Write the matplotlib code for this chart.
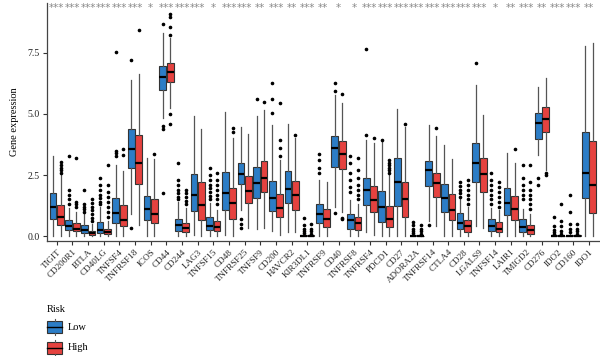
import matplotlib
matplotlib.use("Agg")
import matplotlib.pyplot as plt
from matplotlib.patches import Rectangle
from matplotlib.lines import Line2D

# ---- data ----
genes = ["TIGIT", "CD200R1", "BTLA", "CD40LG", "TNFSF4", "TNFRSF18", "ICOS", "CD44",
         "CD244", "LAG3", "TNFSF15", "CD48", "TNFRSF25", "TNFSF9", "CD200", "HAVCR2",
         "KIR3DL1", "TNFRSF9", "CD40", "TNFRSF8", "TNFRSF4", "PDCD1", "CD27", "ADORA2A",
         "TNFRSF14", "CTLA4", "CD28", "LGALS9", "TNFSF14", "LAIR1", "TMIGD2", "CD276",
         "IDO2", "CD160", "IDO1"]
stars = ["***", "***", "***", "***", "***", "***", "*", "***", "***", "***", "*", "***",
         "***", "**", "***", "**", "***", "**", "*", "*", "***", "***", "***", "***",
         "***", "***", "***", "***", "*", "**", "***", "**", "***", "***", "**"]

# Low risk group: q1, median, q3, whisker low, whisker high, outliers
low_q1 = [0.71, 0.27, 0.14, 0.11, 0.55, 2.80, 0.64, 5.98, 0.22, 1.04, 0.25, 1.09, 2.12, 1.58,
          1.02, 1.37, 0.00, 0.52, 2.84, 0.31, 1.27, 0.59, 1.25, 0.00, 2.05, 1.00, 0.31, 2.23,
          0.20, 0.86, 0.18, 3.97, 0.00, 0.00, 1.55]
low_med = [1.20, 0.41, 0.25, 0.27, 0.94, 3.57, 1.12, 6.53, 0.45, 1.68, 0.41, 1.75, 2.53, 2.18,
           1.57, 1.91, 0.01, 0.89, 3.60, 0.66, 1.89, 1.18, 2.20, 0.01, 2.70, 1.58, 0.55, 3.00,
           0.41, 1.37, 0.36, 4.62, 0.01, 0.02, 2.60]
low_q3 = [1.75, 0.65, 0.44, 0.57, 1.57, 4.38, 1.64, 6.98, 0.70, 2.55, 0.79, 2.61, 3.00, 2.81,
          2.27, 2.66, 0.04, 1.30, 4.10, 0.89, 2.40, 1.84, 3.20, 0.03, 3.09, 2.13, 0.96, 3.83,
          0.70, 1.95, 0.70, 5.05, 0.03, 0.05, 4.28]
low_lo = [0.00, 0.00, 0.00, 0.00, 0.00, 0.90, 0.00, 4.84, 0.00, 0.05, 0.00, 0.05, 1.07, 0.30,
          0.20, 0.18, 0.00, 0.02, 1.20, 0.00, 0.18, 0.02, 0.02, 0.00, 0.60, 0.02, 0.00, 0.40,
          0.00, 0.02, 0.00, 3.32, 0.00, 0.00, 0.00]
low_hi = [3.27, 1.16, 0.90, 1.20, 2.93, 6.40, 3.20, 8.30, 1.41, 4.90, 1.35, 5.10, 4.48, 4.90,
          4.55, 4.60, 0.08, 2.30, 5.78, 1.48, 3.93, 3.85, 5.20, 0.07, 4.55, 3.73, 1.50, 6.19,
          1.15, 3.41, 1.10, 6.12, 0.07, 0.10, 7.79]
low_out = [[], [1.3, 1.5, 1.68, 1.9, 3.3], [1.0, 1.1, 1.2, 1.3, 1.87],
           [1.3, 1.4, 1.55, 1.7, 1.9, 2.1, 2.36], [3.3, 3.4, 3.5, 7.52], [0.33, 7.2], [],
           [1.77, 4.37, 4.5, 8.69], [1.5, 1.6, 1.75, 1.9, 2.1, 2.3, 3.0], [],
           [1.5, 1.65, 1.8, 1.95, 2.1, 2.3, 2.5, 2.8], [], [0.35, 0.5, 0.7], [5.6],
           [5.03, 5.6, 6.26], [], [0.12, 0.2, 0.3, 0.45, 0.75], [2.57, 2.8, 3.1, 3.38],
           [0.93, 5.96, 6.26], [1.8, 2.0, 2.3, 2.6, 3.0, 3.3], [4.14, 7.65], [3.95], [],
           [0.12, 0.2, 0.3, 0.45, 0.59], [0.45], [], [1.6, 1.75, 1.9, 2.05, 2.2], [7.1],
           [1.3, 1.5, 1.7, 1.9, 2.1, 2.3, 2.6], [], [1.5, 1.7, 1.9, 2.1, 2.4, 2.9], [2.1, 2.4],
           [0.1, 0.15, 0.25, 0.4, 0.79], [0.15, 0.3, 0.5, 0.97, 1.68], []]

# High risk group
high_q1 = [0.44, 0.20, 0.04, 0.07, 0.41, 2.15, 0.55, 6.33, 0.18, 0.66, 0.20, 0.72, 1.34, 1.82,
           0.77, 1.07, 0.00, 0.38, 2.73, 0.27, 0.97, 0.36, 0.77, 0.00, 1.61, 0.66, 0.18, 1.79,
           0.18, 0.66, 0.08, 4.28, 0.00, 0.00, 0.93]
high_med = [0.78, 0.31, 0.14, 0.18, 0.68, 3.00, 0.89, 6.70, 0.32, 1.27, 0.38, 1.34, 1.86, 2.36,
            1.16, 1.68, 0.01, 0.72, 3.36, 0.52, 1.48, 0.72, 1.50, 0.01, 2.16, 1.09, 0.41, 2.54,
            0.30, 1.13, 0.25, 4.78, 0.01, 0.01, 2.09]
high_q3 = [1.27, 0.52, 0.23, 0.30, 1.27, 4.16, 1.50, 7.08, 0.55, 2.20, 0.61, 1.98, 2.46, 3.09,
           1.71, 2.27, 0.03, 1.13, 3.91, 0.77, 2.05, 1.23, 2.23, 0.02, 2.60, 1.72, 0.68, 3.18,
           0.59, 1.64, 0.45, 5.30, 0.02, 0.03, 3.91]
high_lo = [0.00, 0.00, 0.00, 0.00, 0.00, 0.44, 0.00, 5.25, 0.00, 0.02, 0.00, 0.02, 0.33, 0.33,
           0.05, 0.18, 0.00, 0.02, 1.00, 0.00, 0.05, 0.02, 0.02, 0.00, 0.40, 0.02, 0.00, 0.33,
           0.00, 0.02, 0.00, 2.70, 0.00, 0.00, 0.00]
high_hi = [2.50, 1.00, 0.48, 0.61, 2.66, 6.64, 3.14, 8.10, 1.15, 4.40, 1.07, 4.00, 4.20, 5.16,
           3.11, 4.00, 0.07, 2.23, 5.46, 1.30, 3.80, 2.50, 4.48, 0.05, 4.10, 3.14, 1.20, 4.96,
           1.05, 2.98, 0.90, 6.46, 0.05, 0.06, 7.92]
high_out = [[2.6, 2.7, 2.8, 2.9, 3.03], [1.2, 1.3, 1.4, 3.2], [0.6, 0.75, 0.9, 1.05, 1.2, 1.35, 1.5],
            [0.8, 1.0, 1.2, 1.4, 1.6, 1.8, 2.1, 2.9], [3.34, 3.55], [8.44], [3.38],
            [4.6, 4.98, 8.24, 8.58, 8.97, 9.1], [1.3, 1.45, 1.6, 1.75, 1.9], [],
            [1.3, 1.5, 1.7, 1.9, 2.1, 2.3, 2.6], [4.26, 4.43], [], [5.5], [3.3, 3.6, 3.95, 5.46],
            [4.14], [0.1, 0.2, 0.3, 0.5], [], [0.7, 0.75, 5.82],
            [1.5, 1.7, 1.9, 2.1, 2.4, 2.7, 3.2], [4.0], [2.6, 2.7, 2.8, 2.9, 3.0, 3.1], [4.6],
            [0.1, 0.2, 0.3, 0.45], [4.41], [], [1.3, 1.5, 1.7, 1.9, 2.1, 2.3], [],
            [1.2, 1.4, 1.6, 1.8, 2.0, 2.2], [3.55], [1.1, 1.3, 1.5, 1.7, 1.9, 2.2, 2.9],
            [2.5, 2.6], [0.1, 0.2, 0.4, 0.6, 1.3], [0.1, 0.2, 0.3, 0.5], []]

LOW_COLOR = "#2C7DC6"
HIGH_COLOR = "#E5423F"

plt.rcParams["font.family"] = ["Liberation Serif", "DejaVu Serif"]


def make_stats(q1, med, q3, lo, hi, out):
    return [dict(q1=a, med=b, q3=c, whislo=d, whishi=e, fliers=f)
            for a, b, c, d, e, f in zip(q1, med, q3, lo, hi, out)]


fig = plt.figure(figsize=(6.0, 3.56), dpi=100)
ax = fig.add_axes([0.078, 0.323, 0.922, 0.669])

pos = list(range(len(genes)))
offset = 0.24
width = 0.43

groups = [
    (make_stats(low_q1, low_med, low_q3, low_lo, low_hi, low_out), -offset, LOW_COLOR),
    (make_stats(high_q1, high_med, high_q3, high_lo, high_hi, high_out), offset, HIGH_COLOR),
]
for stats, off, col in groups:
    ax.bxp(stats, positions=[p + off for p in pos], widths=width, patch_artist=True,
           showcaps=False, manage_ticks=False,
           boxprops=dict(facecolor=col, edgecolor="#333333", linewidth=0.8),
           medianprops=dict(color="black", linewidth=1.6),
           whiskerprops=dict(color="#555555", linewidth=0.9),
           flierprops=dict(marker="o", markersize=1.6, markerfacecolor="black",
                           markeredgecolor="black", linestyle="none"))

# significance stars along the top
for p, s in zip(pos, stars):
    ax.text(p, 9.35, s, ha="center", va="center", fontsize=7.5, color="#8a8a8a",
            family="DejaVu Sans")

ax.set_xlim(-0.64, 34.7)
ax.set_ylim(-0.2, 9.55)
ax.set_yticks([0.0, 2.5, 5.0, 7.5])
ax.set_yticklabels(["0.0", "2.5", "5.0", "7.5"], fontsize=7)
ax.set_xticks(pos)
ax.set_xticklabels(genes, rotation=45, ha="right", rotation_mode="anchor", fontsize=6.6)
ax.set_ylabel("Gene expression", fontsize=7.5, labelpad=6)
ax.tick_params(axis="both", direction="out", length=3, width=0.8, colors="#333333",
               labelcolor="#222222", pad=2)
ax.spines["top"].set_visible(False)
ax.spines["right"].set_visible(False)
for sp in ("left", "bottom"):
    ax.spines[sp].set_color("#444444")
    ax.spines[sp].set_linewidth(0.9)


# legend drawn by hand in pixel units
def px(x, y):
    return x / 600.0, 1 - y / 356.0


fig.text(*px(47, 310), "Risk", fontsize=7.5, va="center", ha="left")
for (yc, label, col) in [(327, "Low", LOW_COLOR), (348, "High", HIGH_COLOR)]:
    x0, y0 = px(47, yc + 6)
    x1, y1 = px(62, yc - 6)
    fig.add_artist(Rectangle((x0, y0), x1 - x0, y1 - y0, transform=fig.transFigure,
                             facecolor=col, edgecolor="#333333", linewidth=0.8))
    mx = (x0 + x1) / 2
    fig.add_artist(Line2D([x0, x1], [px(0, yc)[1]] * 2, transform=fig.transFigure,
                          color="black", linewidth=1.0))
    fig.add_artist(Line2D([mx, mx], [y1, px(0, yc - 8)[1]], transform=fig.transFigure,
                          color="#555555", linewidth=0.8))
    fig.add_artist(Line2D([mx, mx], [y0, px(0, yc + 8)[1]], transform=fig.transFigure,
                          color="#555555", linewidth=0.8))
    fig.text(*px(68, yc), label, fontsize=7.5, va="center", ha="left")

fig.savefig("out.png", dpi=100)
